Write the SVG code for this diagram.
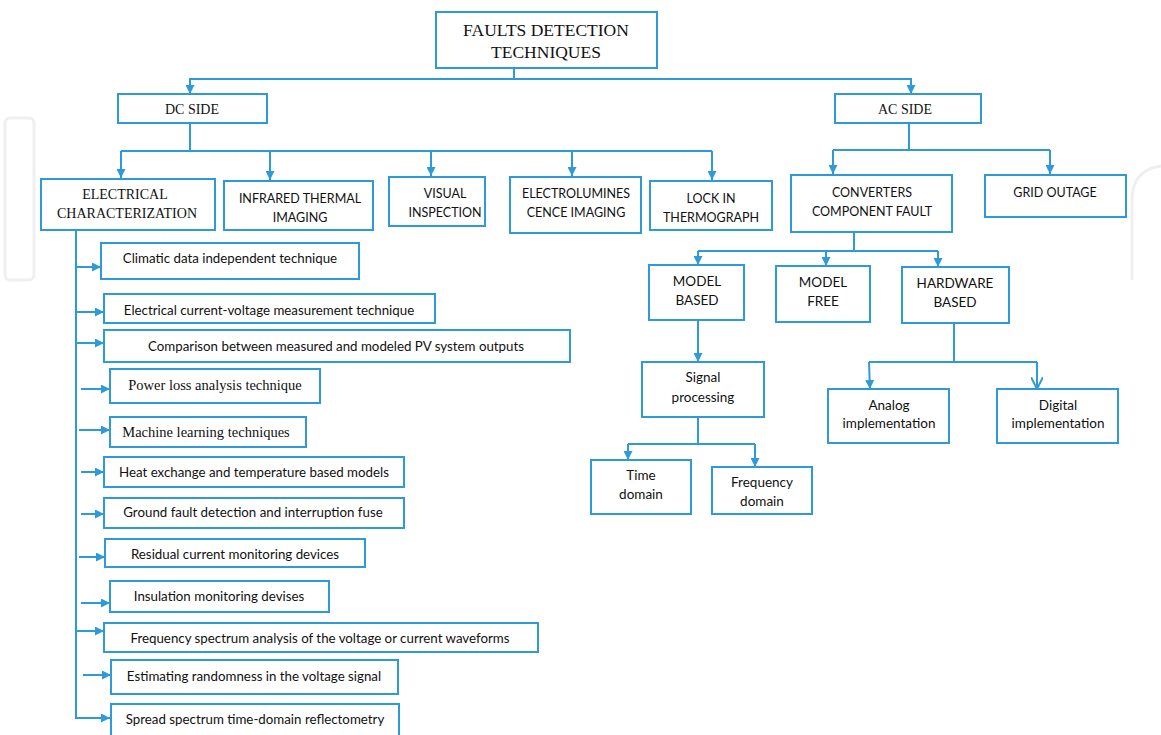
<svg xmlns="http://www.w3.org/2000/svg" width="1161" height="735" viewBox="0 0 1161 735">
<style>
rect.box{fill:#fff;stroke:#2f9ad8;stroke-width:2}
.c{fill:none;stroke:#2f9ad8;stroke-width:2}
text{fill:#111;text-anchor:middle}
.serif{font-family:"Liberation Serif","Times New Roman",serif}
.sans{font-family:Lato,"Open Sans","Liberation Sans",sans-serif}
.cap{font-size:12.5px}
.item{font-size:13.3px}
.rt{font-size:13.5px}
.wm{fill:none;stroke:#efefef;stroke-width:3}
</style>
<defs>
<marker id="ah" viewBox="0 0 10 10" refX="10" refY="5" markerWidth="9" markerHeight="9" markerUnits="userSpaceOnUse" orient="auto"><path d="M0,0 L10,5 L0,10 z" fill="#2f9ad8"/></marker>
<marker id="av" viewBox="0 0 10 10" refX="10" refY="5" markerWidth="12" markerHeight="12" markerUnits="userSpaceOnUse" orient="auto"><path d="M0,0 L10,5 L0,10" fill="none" stroke="#2f9ad8" stroke-width="1.6"/></marker>
</defs>
<rect width="1161" height="735" fill="#fff"/>
<g id="watermark">
<rect class="wm" x="5" y="118" width="29" height="162" rx="5"/>
<path class="wm" d="M1132 280 V200 Q1132 170 1161 166"/>
</g>
<g id="connectors">
<path class="c" d="M514 68 V79 H190 V94" marker-end="url(#ah)"/>
<path class="c" d="M514 79 H911 V94" marker-end="url(#ah)"/>
<path class="c" d="M190 123 V151 M121 151 H712"/>
<path class="c" d="M121 151 V178" marker-end="url(#ah)"/>
<path class="c" d="M270 151 V180" marker-end="url(#ah)"/>
<path class="c" d="M431 151 V176" marker-end="url(#ah)"/>
<path class="c" d="M572 151 V176" marker-end="url(#ah)"/>
<path class="c" d="M712 151 V180" marker-end="url(#ah)"/>
<path class="c" d="M909 123 V150 M833 150 H1050"/>
<path class="c" d="M833 150 V174" marker-end="url(#ah)"/>
<path class="c" d="M1050 150 V174" marker-end="url(#ah)"/>
<path class="c" d="M76 230 V718 H110" marker-end="url(#ah)"/>
<path class="c" d="M76 267 H101" marker-end="url(#ah)"/>
<path class="c" d="M76 312 H104" marker-end="url(#ah)"/>
<path class="c" d="M76 343 H104" marker-end="url(#ah)"/>
<path class="c" d="M81 389 H110" marker-end="url(#ah)"/>
<path class="c" d="M79 430 H110" marker-end="url(#ah)"/>
<path class="c" d="M81 472 H104" marker-end="url(#ah)"/>
<path class="c" d="M81 514 H104" marker-end="url(#ah)"/>
<path class="c" d="M79 557 H105" marker-end="url(#ah)"/>
<path class="c" d="M81 603 H110" marker-end="url(#ah)"/>
<path class="c" d="M76 631 H104" marker-end="url(#ah)"/>
<path class="c" d="M83 675 H111" marker-end="url(#ah)"/>
<path class="c" d="M854 232 V251 M698 251 H938"/>
<path class="c" d="M698 251 V265" marker-end="url(#ah)"/>
<path class="c" d="M826 251 V266" marker-end="url(#ah)"/>
<path class="c" d="M938 251 V267" marker-end="url(#ah)"/>
<path class="c" d="M698 320 V362" marker-end="url(#ah)"/>
<path class="c" d="M698 417 V444 M628 444 H755"/>
<path class="c" d="M628 444 V460" marker-end="url(#ah)"/>
<path class="c" d="M755 444 V467" marker-end="url(#ah)"/>
<path class="c" d="M954 323 V362 M869 362 H1037"/>
<path class="c" d="M869 362 L870 389" marker-end="url(#ah)"/>
<path class="c" d="M1037 362 V389" marker-end="url(#av)"/>
</g>
<g id="root"><rect class="box" x="436" y="12" width="221" height="56"/><text class="serif" font-size="17.5" x="546" y="36">FAULTS DETECTION</text><text class="serif" font-size="17.5" x="546" y="58">TECHNIQUES</text></g>
<g id="dc-side"><rect class="box" x="118" y="94" width="149" height="29"/><text class="serif" font-size="14" x="192" y="114">DC SIDE</text></g>
<g id="ac-side"><rect class="box" x="835" y="94" width="146" height="29"/><text class="serif" font-size="14" x="905" y="114">AC SIDE</text></g>
<g id="electrical"><rect class="box" x="41" y="179" width="174" height="51"/><text class="serif" font-size="14" x="125" y="199">ELECTRICAL</text><text class="serif" font-size="14" x="127" y="218">CHARACTERIZATION</text></g>
<g id="infrared"><rect class="box" x="224" y="181" width="149" height="49"/><text class="sans cap" x="300" y="203">INFRARED THERMAL</text><text class="sans cap" x="300" y="222">IMAGING</text></g>
<g id="visual"><rect class="box" x="389" y="177" width="96" height="49"/><text class="sans cap" x="445" y="198">VISUAL</text><text class="sans cap" x="445" y="217">INSPECTION</text></g>
<g id="electroluminescence"><rect class="box" x="510" y="177" width="131" height="56"/><text class="sans cap" x="576" y="198">ELECTROLUMINES</text><text class="sans cap" x="576" y="217">CENCE IMAGING</text></g>
<g id="lock-in"><rect class="box" x="650" y="181" width="122" height="49"/><text class="sans cap" x="711" y="203">LOCK IN</text><text class="sans cap" x="711" y="222">THERMOGRAPH</text></g>
<g id="converters"><rect class="box" x="791" y="175" width="161" height="57"/><text class="sans cap" x="872" y="197">CONVERTERS</text><text class="sans cap" x="872" y="216">COMPONENT FAULT</text></g>
<g id="grid-outage"><rect class="box" x="985" y="175" width="141" height="42"/><text class="sans cap" x="1055" y="197">GRID OUTAGE</text></g>
<g id="climatic"><rect class="box" x="101" y="243" width="258" height="36"/><text class="sans item" x="230" y="263">Climatic data independent technique</text></g>
<g id="current-voltage"><rect class="box" x="104" y="294" width="331" height="29"/><text class="sans item" x="269" y="315">Electrical current-voltage measurement technique</text></g>
<g id="comparison"><rect class="box" x="104" y="330" width="466" height="32"/><text class="sans item" x="336" y="351">Comparison between measured and modeled PV system outputs</text></g>
<g id="power-loss"><rect class="box" x="110" y="369" width="210" height="34"/><text class="serif" font-size="14.5" x="215" y="390">Power loss analysis technique</text></g>
<g id="machine-learning"><rect class="box" x="110" y="417" width="196" height="30"/><text class="serif" font-size="14.5" x="206" y="437">Machine learning techniques</text></g>
<g id="heat-exchange"><rect class="box" x="104" y="457" width="300" height="30"/><text class="sans item" x="254" y="477">Heat exchange and temperature based models</text></g>
<g id="ground-fault"><rect class="box" x="104" y="498" width="300" height="30"/><text class="sans item" x="253" y="517">Ground fault detection and interruption fuse</text></g>
<g id="residual"><rect class="box" x="105" y="539" width="260" height="28"/><text class="sans item" x="235" y="559">Residual current monitoring devices</text></g>
<g id="insulation"><rect class="box" x="110" y="581" width="219" height="31"/><text class="sans item" x="219" y="601">Insulation monitoring devises</text></g>
<g id="frequency-spectrum"><rect class="box" x="104" y="623" width="434" height="29"/><text class="sans item" x="320" y="643">Frequency spectrum analysis of the voltage or current waveforms</text></g>
<g id="randomness"><rect class="box" x="111" y="660" width="287" height="34"/><text class="sans item" x="254" y="681">Estimating randomness in the voltage signal</text></g>
<g id="spread-spectrum"><rect class="box" x="111" y="704" width="288" height="33"/><text class="sans item" x="255" y="724">Spread spectrum time-domain reflectometry</text></g>
<g id="model-based"><rect class="box" x="649" y="265" width="95" height="55"/><text class="sans rt" x="697" y="286">MODEL</text><text class="sans rt" x="697" y="305">BASED</text></g>
<g id="model-free"><rect class="box" x="776" y="266" width="94" height="56"/><text class="sans rt" x="823" y="287">MODEL</text><text class="sans rt" x="823" y="306">FREE</text></g>
<g id="hardware-based"><rect class="box" x="902" y="267" width="107" height="56"/><text class="sans rt" x="955" y="288">HARDWARE</text><text class="sans rt" x="955" y="307">BASED</text></g>
<g id="signal-processing"><rect class="box" x="642" y="362" width="122" height="55"/><text class="sans rt" x="703" y="382">Signal</text><text class="sans rt" x="703" y="402">processing</text></g>
<g id="time-domain"><rect class="box" x="591" y="460" width="100" height="54"/><text class="sans rt" x="641" y="480">Time</text><text class="sans rt" x="641" y="499">domain</text></g>
<g id="frequency-domain"><rect class="box" x="712" y="467" width="100" height="47"/><text class="sans rt" x="762" y="487">Frequency</text><text class="sans rt" x="762" y="506">domain</text></g>
<g id="analog"><rect class="box" x="828" y="389" width="121" height="54"/><text class="sans rt" x="889" y="410">Analog</text><text class="sans rt" x="889" y="428">implementation</text></g>
<g id="digital"><rect class="box" x="997" y="389" width="121" height="54"/><text class="sans rt" x="1058" y="410">Digital</text><text class="sans rt" x="1058" y="428">implementation</text></g>
</svg>
